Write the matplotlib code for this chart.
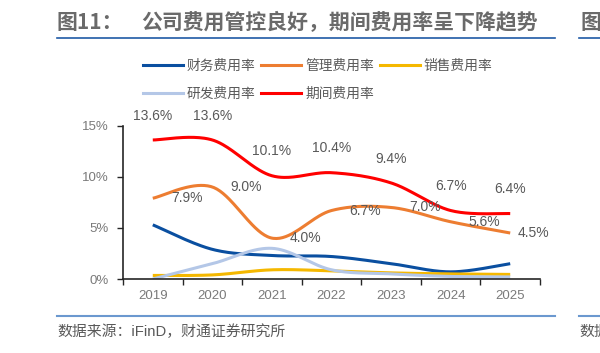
import numpy as np
import matplotlib.pyplot as plt
from matplotlib.lines import Line2D

plt.rcParams['font.family'] = ['Liberation Sans', 'Noto Sans CJK SC', 'DejaVu Sans']

years = ['2019', '2020', '2021', '2022', '2023', '2024', '2025']
finance = [5.3, 2.9, 2.3, 2.2, 1.5, 0.7, 1.5]      # 财务费用率
admin = [7.9, 9.0, 4.0, 6.7, 7.0, 5.6, 4.5]        # 管理费用率
sales = [0.35, 0.4, 0.9, 0.8, 0.6, 0.5, 0.45]      # 销售费用率
rnd = [0.0, 1.5, 3.0, 0.9, 0.5, 0.25, 0.2]         # 研发费用率
period = [13.6, 13.6, 10.1, 10.4, 9.4, 6.7, 6.4]   # 期间费用率

names = ['财务费用率', '管理费用率', '销售费用率', '研发费用率', '期间费用率']
colors = ['#0a4fa0', '#ed7d31', '#f5b800', '#b4c7e7', '#ff0000']


def smooth(xs, ys, n=40):
    # Excel style bezier smoothing
    p = np.column_stack([xs, ys]).astype(float)
    p = np.vstack([p[0], p, p[-1]])
    out = []
    t = np.linspace(0, 1, n)[:, None]
    for i in range(1, len(p) - 2):
        p0, p1, p2, p3 = p[i - 1], p[i], p[i + 1], p[i + 2]
        c1 = p1 + (p2 - p0) / 6
        c2 = p2 - (p3 - p1) / 6
        seg = ((1 - t) ** 3) * p1 + 3 * ((1 - t) ** 2) * t * c1 + 3 * (1 - t) * t ** 2 * c2 + t ** 3 * p2
        out.append(seg)
    out = np.vstack(out)
    return out[:, 0], out[:, 1]


fig = plt.figure(figsize=(6, 3.53), dpi=100)
ax = fig.add_axes([0.205, 0.2096, 0.695, 0.4344])

x = np.arange(len(years))
series = [finance, admin, sales, rnd, period]
for vals, c in zip(series, colors):
    sx, sy = smooth(x, vals)
    ax.plot(sx, sy, color=c, lw=2.2, solid_capstyle='butt')

label_color = '#595959'
for xi, v in zip(x, period):
    ax.annotate(f'{v:.1f}%', (xi, v), xytext=(0, 17.5), textcoords='offset points',
                ha='center', va='center', fontsize=10, color=label_color)
dx_admin = [13, 13, 13, 13, 13, 12.5, 5]
for xi, v, d in zip(x, admin, dx_admin):
    ax.annotate(f'{v:.1f}%', (xi, v), xytext=(d, 0), textcoords='offset points',
                ha='left', va='center', fontsize=10, color=label_color)

ax.set_xlim(-0.5, len(years) - 0.5)
ax.set_ylim(0, 15)
ax.set_xticks(np.arange(-0.5, len(years), 1))
ax.set_xticklabels([])
ax.set_xticks(x, minor=True)
ax.set_xticklabels(years, minor=True)
ax.tick_params(axis='x', which='major', length=4, width=1, direction='out', color='#262626')
ax.tick_params(axis='x', which='minor', length=0, pad=8, labelsize=9.5, labelcolor='#7a7a7a')
ax.set_yticks([0, 5, 10, 15])
ax.set_yticklabels(['0%', '5%', '10%', '15%'])
ax.tick_params(axis='y', length=4, width=1, pad=6, labelsize=9.5, labelcolor='#7a7a7a', color='#262626')
for s in ['top', 'right']:
    ax.spines[s].set_visible(False)
for s in ['left', 'bottom']:
    ax.spines[s].set_color('#262626')
    ax.spines[s].set_linewidth(1.2)

# legend filled column by column, so order it to read row by row
order = [0, 3, 1, 4, 2]
handles = [Line2D([0], [0], color=colors[i], lw=2.2) for i in order]
labels = [names[i] for i in order]
leg = fig.legend(handles, labels, loc='upper left', bbox_to_anchor=(143 / 600, 1 - 59 / 353),
                 ncol=3, frameon=False, handlelength=2.9, handletextpad=0.29,
                 columnspacing=0.42, labelspacing=0.97, borderpad=0, borderaxespad=0,
                 labelcolor='#595959', prop={'family': ['Noto Sans CJK SC'], 'size': 9.9})

# title and frame lines
tcol = '#6a6a6a'
fig.text(57 / 600, 1 - 22.5 / 353, '图11：', fontsize=15, color=tcol, va='center',
         family=['Noto Sans CJK SC'], weight='bold')
fig.text(141.5 / 600, 1 - 22.5 / 353, '公司费用管控良好，期间费用率呈下降趋势', fontsize=15,
         color=tcol, va='center', family=['Noto Sans CJK SC'], weight='bold')
fig.text(580 / 600, 1 - 22.5 / 353, '图', fontsize=15, color=tcol, va='center',
         family=['Noto Sans CJK SC'], weight='bold')
fig.add_artist(Line2D([57 / 600, 555 / 600], [1 - 38.3 / 353] * 2, color='#1f5aa6', lw=1.2))
fig.add_artist(Line2D([579 / 600, 1.0], [1 - 38.3 / 353] * 2, color='#1f5aa6', lw=1.2))
fig.add_artist(Line2D([57 / 600, 555 / 600], [1 - 316 / 353] * 2, color='#6b98cf', lw=1.5))
fig.add_artist(Line2D([579 / 600, 1.0], [1 - 316 / 353] * 2, color='#6b98cf', lw=1.5))

src_font = ['Liberation Sans', 'Noto Sans CJK SC']
fig.text(57 / 600, 1 - 332 / 353, '数据来源：iFinD，财通证券研究所', fontsize=10.7, color='#595959',
         va='center', family=src_font)
fig.text(579 / 600, 1 - 332 / 353, '数据', fontsize=10.7, color='#595959', va='center',
         family=src_font)

fig.savefig('out.png', dpi=100)
